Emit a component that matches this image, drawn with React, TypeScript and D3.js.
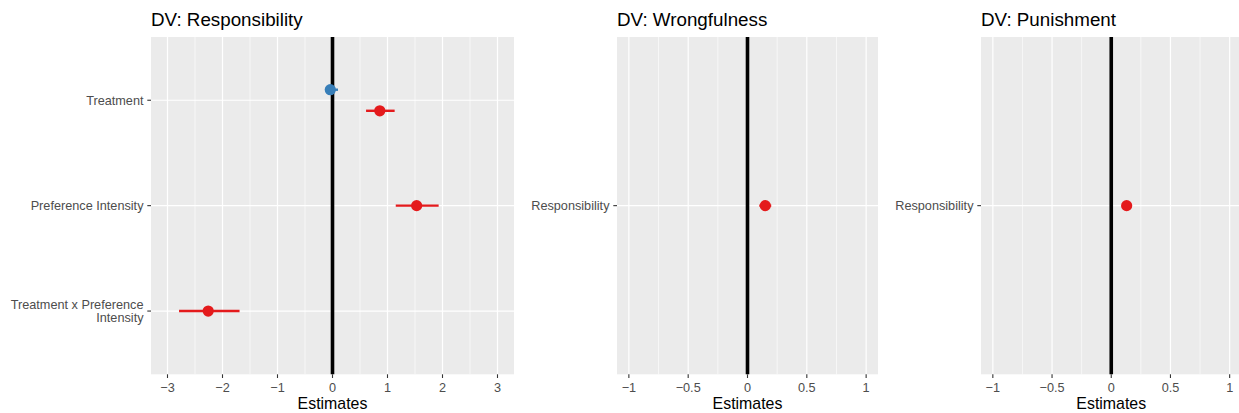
import React from "react";
import * as d3 from "d3";

// ---- data ----
const respTerms = ["Treatment", "Preference Intensity", "Treatment x Preference Intensity"];
const respGroup = ["A", "B", "B", "B"];
const respTerm = ["Treatment", "Treatment", "Preference Intensity", "Treatment x Preference Intensity"];
const respEst = [-0.04, 0.86, 1.53, -2.26];
const respLo = [-0.13, 0.61, 1.15, -2.79];
const respHi = [0.1, 1.13, 1.93, -1.69];

const wrongTerms = ["Responsibility"];
const wrongEst = [0.15];
const wrongLo = [0.1];
const wrongHi = [0.2];

const punTerms = ["Responsibility"];
const punEst = [0.13];
const punLo = [0.1];
const punHi = [0.16];

const respTicks = [-3, -2, -1, 0, 1, 2, 3];
const unitTicks = [-1, -0.5, 0, 0.5, 1];

const titles = ["DV: Responsibility", "DV: Wrongfulness", "DV: Punishment"];

const groupColor: Record<string, string> = { A: "#377EB8", B: "#E41A1C" };

const FONT = "'Liberation Sans', Arial, Helvetica, sans-serif";

type Row = { term: string; group: string; est: number; lo: number; hi: number };

const respRows: Row[] = respTerm.map((t, i) => ({ term: t, group: respGroup[i], est: respEst[i], lo: respLo[i], hi: respHi[i] }));
const wrongRows: Row[] = wrongTerms.map((t, i) => ({ term: t, group: "B", est: wrongEst[i], lo: wrongLo[i], hi: wrongHi[i] }));
const punRows: Row[] = punTerms.map((t, i) => ({ term: t, group: "B", est: punEst[i], lo: punLo[i], hi: punHi[i] }));

const labelLines: Record<string, string[]> = {
  "Treatment x Preference Intensity": ["Treatment x Preference", "Intensity"],
};

const fmt = d3.format("~g");

function Panel(props: {
  x0: number; x1: number; y0: number; y1: number;
  title: string; terms: string[]; rows: Row[];
  domain: [number, number]; ticks: number[];
}) {
  const { x0, x1, y0, y1, title, terms, rows, domain, ticks } = props;
  const x = d3.scaleLinear().domain(domain).range([x0, x1]);
  const y = d3.scalePoint<string>().domain(terms).range([y0, y1]).padding(0.6);
  const step = terms.length > 1 ? y.step() : (y1 - y0) / 1.2;
  const minor: number[] = [];
  for (let i = 0; i < ticks.length - 1; i++) minor.push((ticks[i] + ticks[i + 1]) / 2);
  const dodge = 0.4;
  const counts: Record<string, Row[]> = {};
  rows.forEach((r) => { (counts[r.term] = counts[r.term] || []).push(r); });
  const yOf = (r: Row) => {
    const grp = counts[r.term];
    const n = grp.length;
    const k = grp.indexOf(r);
    const off = n > 1 ? (-dodge / 2 + (dodge / n) * (k + 0.5)) * step : 0;
    return (y(r.term) as number) + off;
  };
  return (
    <g>
      <text x={x0} y={26} fontSize={18.8} fill="#000" fontFamily={FONT}>{title}</text>
      <rect x={x0} y={y0} width={x1 - x0} height={y1 - y0} fill="#EBEBEB" />
      {minor.map((m) => (
        <line key={"mn" + m} x1={x(m)} x2={x(m)} y1={y0} y2={y1} stroke="#fff" strokeWidth={0.6} />
      ))}
      {ticks.map((t) => (
        <line key={"mj" + t} x1={x(t)} x2={x(t)} y1={y0} y2={y1} stroke="#fff" strokeWidth={1.2} />
      ))}
      {terms.map((t) => (
        <line key={"hy" + t} x1={x0} x2={x1} y1={y(t)} y2={y(t)} stroke="#fff" strokeWidth={1.2} />
      ))}
      <line x1={x(0)} x2={x(0)} y1={y0} y2={y1} stroke="#000" strokeWidth={3.6} />
      {rows.map((r, i) => (
        <g key={"pt" + i}>
          <line x1={x(r.lo)} x2={x(r.hi)} y1={yOf(r)} y2={yOf(r)} stroke={groupColor[r.group]} strokeWidth={2.4} />
          <circle cx={x(r.est)} cy={yOf(r)} r={5.6} fill={groupColor[r.group]} />
        </g>
      ))}
      {ticks.map((t) => (
        <g key={"xt" + t}>
          <line x1={x(t)} x2={x(t)} y1={y1} y2={y1 + 3.7} stroke="#333333" strokeWidth={1.1} />
          <text x={x(t)} y={391.5} textAnchor="middle" fontSize={12.7} fill="#4D4D4D" fontFamily={FONT}>{fmt(t)}</text>
        </g>
      ))}
      {terms.map((t) => {
        const lines = labelLines[t] || [t];
        const lh = 13.8;
        const yc = y(t) as number;
        const firstBase = yc + 4.4 - ((lines.length - 1) * lh) / 2;
        return (
          <g key={"yt" + t}>
            <line x1={x0 - 3.7} x2={x0} y1={yc} y2={yc} stroke="#333333" strokeWidth={1.1} />
            <text x={x0 - 7.5} textAnchor="end" fontSize={12.7} fill="#4D4D4D" fontFamily={FONT}>
              {lines.map((l, i) => (
                <tspan key={i} x={x0 - 7.5} y={firstBase + i * lh}>{l}</tspan>
              ))}
            </text>
          </g>
        );
      })}
      <text x={(x0 + x1) / 2} y={408.5} textAnchor="middle" fontSize={15.9} fill="#000" fontFamily={FONT}>Estimates</text>
    </g>
  );
}

export default function App() {
  const W = 1239;
  const H = 413;
  const y0 = 37;
  const y1 = 374.3;
  return (
    <div style={{ position: "absolute", left: 0, top: 0 }}>
      <svg width={W} height={H} style={{ display: "block", background: "#fff" }}>
        <Panel x0={151} x1={514} y0={y0} y1={y1} title={titles[0]} terms={respTerms} rows={respRows} domain={[-3.3, 3.3]} ticks={respTicks} />
        <Panel x0={617} x1={878} y0={y0} y1={y1} title={titles[1]} terms={wrongTerms} rows={wrongRows} domain={[-1.1, 1.1]} ticks={unitTicks} />
        <Panel x0={981} x1={1241.5} y0={y0} y1={y1} title={titles[2]} terms={punTerms} rows={punRows} domain={[-1.1, 1.1]} ticks={unitTicks} />
      </svg>
    </div>
  );
}
